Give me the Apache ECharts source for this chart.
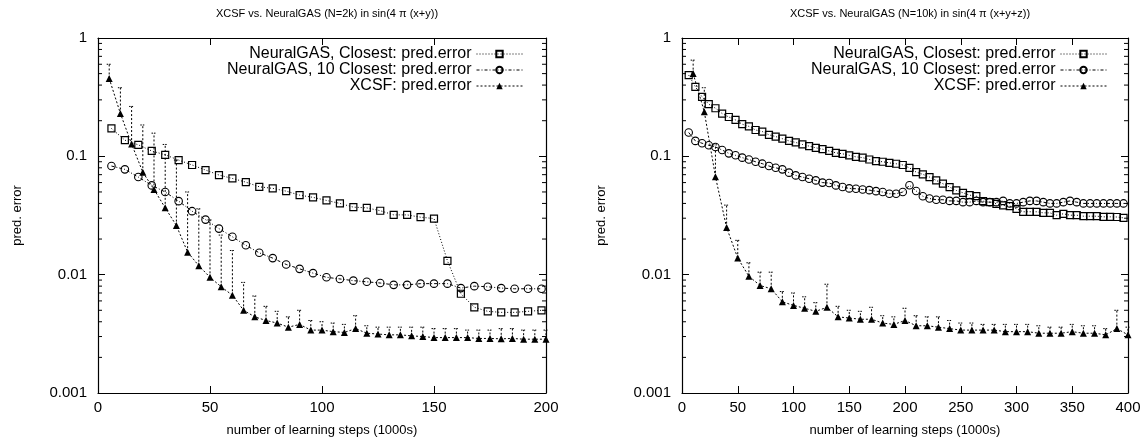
<!DOCTYPE html>
<html>
<head>
<meta charset="utf-8">
<script src="https://cdn.jsdelivr.net/npm/echarts@6/dist/echarts.min.js"></script>
<style>
  html, body { margin: 0; padding: 0; background: #fff; }
  #chart { width: 1148px; height: 448px; }
</style>
</head>
<body>
<div id="chart"></div>
<script>
// left panel: N=2k, sin(4 pi (x+y))
const stepsXcsfL = [5, 10, 15, 20, 25, 30, 35, 40, 45, 50, 55, 60, 65, 70, 75, 80, 85, 90, 95, 100,
  105, 110, 115, 120, 125, 130, 135, 140, 145, 150, 155, 160, 165, 170, 175, 180, 185, 190, 195, 200]
const xcsfL = [0.455, 0.23, 0.127, 0.0735, 0.0525, 0.0367, 0.026, 0.0155, 0.0119, 0.0095, 0.0079, 0.0067, 0.0050, 0.0044,
  0.0041, 0.0039, 0.0036, 0.0038, 0.0034, 0.0034, 0.0033, 0.00325, 0.0035, 0.0032, 0.00315, 0.0031, 0.0031, 0.00304,
  0.0030, 0.00294, 0.00294, 0.00294, 0.00294, 0.00289, 0.00289, 0.00287, 0.00289, 0.00285, 0.00285, 0.00285]
const xcsfTopL = [0.60, 0.38, 0.264, 0.184, 0.157, 0.126, 0.093, 0.050, 0.036, 0.029, 0.0216, 0.016, 0.0086, 0.0066,
  0.0054, 0.0049, 0.0044, 0.0050, 0.0041, 0.0040, 0.0039, 0.0038, 0.0045, 0.0037, 0.0036, 0.0036, 0.0036, 0.0036,
  0.0036, 0.0035, 0.0035, 0.0035, 0.0034, 0.0034, 0.0034, 0.0035, 0.0035, 0.0034, 0.0034, 0.0034]
const stepsNgL = [6, 12, 18, 24, 30, 36, 42, 48, 54, 60, 66, 72, 78, 84, 90, 96, 102, 108, 114, 120,
  126, 132, 138, 144, 150, 156, 162, 168, 174, 180, 186, 192, 198]
const ngClosestL = [0.172, 0.137, 0.125, 0.111, 0.103, 0.093, 0.0845, 0.0766, 0.0695, 0.065, 0.0605, 0.0553, 0.0536,
  0.0508, 0.047, 0.045, 0.0424, 0.040, 0.0372, 0.0367, 0.0347, 0.032, 0.032, 0.0306, 0.0298, 0.0131, 0.0069, 0.0053,
  0.0049, 0.0048, 0.0048, 0.0049, 0.0050]
const ng10L = [0.0828, 0.0776, 0.0668, 0.0568, 0.050, 0.0418, 0.0344, 0.0292, 0.0245, 0.0209, 0.0177, 0.0153, 0.0138,
  0.0122, 0.0112, 0.0103, 0.0095, 0.0092, 0.0089, 0.0087, 0.0085, 0.0082, 0.0082, 0.0084, 0.0084, 0.0084, 0.0077,
  0.0080, 0.0079, 0.0077, 0.0076, 0.0076, 0.0076]

// right panel: N=10k, sin(4 pi (x+y+z))
const stepsXcsfR = [10, 20, 30, 40, 50, 60, 70, 80, 90, 100, 110, 120, 130, 140, 150, 160, 170, 180, 190, 200,
  210, 220, 230, 240, 250, 260, 270, 280, 290, 300, 310, 320, 330, 340, 350, 360, 370, 380, 390, 400]
const xcsfR = [0.50, 0.238, 0.0673, 0.025, 0.0138, 0.0097, 0.0081, 0.0076, 0.0059, 0.0055, 0.0052, 0.0049, 0.0053,
  0.0044, 0.0043, 0.0042, 0.0042, 0.0039, 0.0038, 0.0041, 0.0037, 0.0037, 0.0036, 0.0035, 0.0034, 0.0034, 0.0034,
  0.0034, 0.0033, 0.0033, 0.0033, 0.0032, 0.0032, 0.0032, 0.0033, 0.0032, 0.0032, 0.0031, 0.0035, 0.0031]
const xcsfTopR = [0.65, 0.38, 0.125, 0.0387, 0.0195, 0.0126, 0.0105, 0.0105, 0.0072, 0.0070, 0.0065, 0.0058, 0.0083,
  0.0054, 0.0050, 0.0049, 0.0053, 0.0045, 0.0044, 0.0052, 0.0045, 0.0044, 0.0044, 0.0041, 0.0039, 0.0039, 0.0038,
  0.0038, 0.0038, 0.0038, 0.0038, 0.0037, 0.0036, 0.0036, 0.0038, 0.0037, 0.0037, 0.0035, 0.0050, 0.0036]
const stepsNgR = [6, 12, 18, 24, 30, 36, 42, 48, 54, 60, 66, 72, 78, 84, 90, 96, 102, 108, 114, 120,
  126, 132, 138, 144, 150, 156, 162, 168, 174, 180, 186, 192, 198, 204, 210, 216, 222, 228, 234, 240,
  246, 252, 258, 264, 270, 276, 282, 288, 294, 300, 306, 312, 318, 324, 330, 336, 342, 348, 354, 360,
  366, 372, 378, 384, 390, 396]
const ngClosestR = [0.486, 0.387, 0.318, 0.276, 0.255, 0.23, 0.215, 0.203, 0.187, 0.179, 0.167, 0.162, 0.152, 0.147,
  0.141, 0.135, 0.131, 0.126, 0.122, 0.118, 0.115, 0.111, 0.107, 0.105, 0.102, 0.099, 0.0975, 0.094, 0.091, 0.090,
  0.088, 0.0866, 0.0845, 0.080, 0.0736, 0.0704, 0.0668, 0.0626, 0.0587, 0.055, 0.0515, 0.0492, 0.047, 0.0461, 0.0418,
  0.041, 0.0397, 0.0385, 0.038, 0.036, 0.034, 0.034, 0.034, 0.0333, 0.0333, 0.0318, 0.0327, 0.0318, 0.0318, 0.0312,
  0.0312, 0.0312, 0.0308, 0.0308, 0.0307, 0.0302]
const ng10R = [0.159, 0.135, 0.129, 0.124, 0.12, 0.113, 0.106, 0.102, 0.0975, 0.094, 0.090, 0.0867, 0.0828, 0.080,
  0.0776, 0.0728, 0.069, 0.0668, 0.0647, 0.0626, 0.060, 0.0595, 0.0568, 0.055, 0.0536, 0.0532, 0.0525, 0.0518, 0.0508,
  0.0499, 0.0483, 0.0483, 0.0499, 0.057, 0.051, 0.046, 0.044, 0.043, 0.043, 0.042, 0.042, 0.041, 0.041, 0.042, 0.041,
  0.041, 0.041, 0.042, 0.040, 0.040, 0.041, 0.042, 0.042, 0.041, 0.040, 0.040, 0.041, 0.042, 0.041, 0.040, 0.040,
  0.040, 0.040, 0.040, 0.040, 0.040]

const seriesNames = ['NeuralGAS, Closest: pred.error', 'NeuralGAS, 10 Closest: pred.error', 'XCSF: pred.error']
const titles = ['XCSF vs. NeuralGAS (N=2k) in sin(4 π (x+y))', 'XCSF vs. NeuralGAS (N=10k) in sin(4 π (x+y+z))']
const xMaxes = [200, 400]
// minor ticks of the log axis: 2..9 within each decade
const decades = [0.001, 0.01, 0.1]
const minorSteps = [2, 3, 4, 5, 6, 7, 8, 9]

const FONT = '"Liberation Sans", Arial, Helvetica, sans-serif'
const chart = echarts.init(document.getElementById('chart'))

function pairs(xs, ys) {
  return xs.map((x, i) => [x, ys[i]])
}

function xAxesFor(gi, max) {
  const common = {
    type: 'value', gridIndex: gi, min: 0, max: max, interval: 50,
    axisLine: { show: true, onZero: false, lineStyle: { color: '#000', width: 1.2 } },
    axisTick: { inside: true, length: 7, lineStyle: { color: '#000', width: 1 } },
    splitLine: { show: false },
  }
  return [
    Object.assign({}, common, {
      position: 'bottom',
      name: 'number of learning steps (1000s)', nameLocation: 'middle', nameGap: 31,
      nameTextStyle: { fontSize: 13, fontFamily: FONT, color: '#000' },
      axisLabel: { fontSize: 15, fontFamily: FONT, color: '#000', margin: 7 },
    }),
    Object.assign({}, common, { position: 'top', axisLabel: { show: false } }),
  ]
}

function yAxesFor(gi) {
  const common = {
    type: 'log', logBase: 10, gridIndex: gi, min: 0.001, max: 1,
    axisLine: { show: true, onZero: false, lineStyle: { color: '#000', width: 1.2 } },
    axisTick: { inside: true, length: 7, lineStyle: { color: '#000', width: 1 } },
    splitLine: { show: false },
    minorTick: { show: false },
  }
  return [
    Object.assign({}, common, {
      position: 'left',
      name: 'pred. error', nameLocation: 'middle', nameGap: 74,
      nameTextStyle: { fontSize: 13, fontFamily: FONT, color: '#000' },
      axisLabel: {
        fontSize: 15, fontFamily: FONT, color: '#000', margin: 11,
        formatter: (v) => String(Number(v.toPrecision(1))),
      },
    }),
    Object.assign({}, common, { position: 'right', axisLabel: { show: false } }),
  ]
}

function minorTicks(axisBase, xMax) {
  const vals = []
  decades.forEach(d => minorSteps.forEach(s => vals.push([0, d * s])))
  return {
    type: 'custom', xAxisIndex: axisBase, yAxisIndex: axisBase, silent: true,
    data: vals, encode: { x: 0, y: 1 },
    renderItem(params, api) {
      const l = api.coord([0, api.value(1)])
      const r = api.coord([xMax, api.value(1)])
      const st = { stroke: '#000', lineWidth: 1 }
      return {
        type: 'group', children: [
          { type: 'line', shape: { x1: l[0], y1: l[1], x2: l[0] + 4, y2: l[1] }, style: st },
          { type: 'line', shape: { x1: r[0] - 4, y1: r[1], x2: r[0], y2: r[1] }, style: st },
        ],
      }
    },
  }
}

function errorBars(axisBase, xs, ys, tops) {
  return {
    type: 'custom', xAxisIndex: axisBase, yAxisIndex: axisBase, silent: true, z: 1,
    data: xs.map((x, i) => [x, ys[i], tops[i]]), encode: { x: 0, y: [1, 2] },
    renderItem(params, api) {
      const lo = api.coord([api.value(0), api.value(1)])
      const hi = api.coord([api.value(0), api.value(2)])
      const st = { stroke: '#000', lineWidth: 1, lineDash: [2, 2] }
      return {
        type: 'group', children: [
          { type: 'line', shape: { x1: lo[0], y1: lo[1], x2: hi[0], y2: hi[1] }, style: st },
          { type: 'line', shape: { x1: hi[0] - 2.5, y1: hi[1], x2: hi[0] + 2.5, y2: hi[1] },
            style: { stroke: '#000', lineWidth: 1, lineDash: [1.5, 1] } },
        ],
      }
    },
  }
}

function lineSeries(axisBase, which, data) {
  const base = {
    name: seriesNames[which], type: 'line', xAxisIndex: axisBase, yAxisIndex: axisBase,
    data: data, showSymbol: true, showAllSymbol: true, z: 3,
  }
  if (which === 0) {
    return Object.assign(base, {
      symbol: 'rect', symbolSize: 7,
      lineStyle: { color: '#000', width: 1, type: [1, 2] },
      itemStyle: { color: 'rgba(255,255,255,0)', borderColor: '#000', borderWidth: 1.2 },
    })
  }
  if (which === 1) {
    return Object.assign(base, {
      symbol: 'circle', symbolSize: 7.5,
      lineStyle: { color: '#000', width: 1, type: [3, 2, 1, 2] },
      itemStyle: { color: 'rgba(255,255,255,0)', borderColor: '#000', borderWidth: 1.1 },
    })
  }
  return Object.assign(base, {
    symbol: 'triangle', symbolSize: 7,
    lineStyle: { color: '#000', width: 1, type: [2, 2] },
    itemStyle: { color: '#000' },
  })
}

const legendRights = [625, 41]
const legendTops = [46, 62, 78]
const legends = []
legendRights.forEach(r => {
  seriesNames.forEach((n, i) => {
    legends.push({
      data: [n], right: r, top: legendTops[i], orient: 'horizontal', align: 'right',
      padding: 0, itemWidth: 46, itemHeight: 8, selectedMode: false,
      lineStyle: { width: 1 },
      textStyle: { fontSize: 16, fontFamily: FONT, color: '#000' },
    })
  })
})

const option = {
  backgroundColor: '#fff',
  animation: false,
  title: [
    { text: titles[0], left: 322, top: 3, textAlign: 'center',
      textStyle: { fontSize: 11, fontWeight: 'normal', fontFamily: FONT, color: '#000' } },
    { text: titles[1], left: 905, top: 3, textAlign: 'center',
      textStyle: { fontSize: 11, fontWeight: 'normal', fontFamily: FONT, color: '#000' } },
  ],
  legend: legends,
  grid: [
    { left: 98, top: 38, width: 448, height: 355 },
    { left: 682, top: 38, width: 446, height: 355 },
  ],
  xAxis: [...xAxesFor(0, xMaxes[0]), ...xAxesFor(1, xMaxes[1])],
  yAxis: [...yAxesFor(0), ...yAxesFor(1)],
  series: [
    minorTicks(0, xMaxes[0]),
    errorBars(0, stepsXcsfL, xcsfL, xcsfTopL),
    lineSeries(0, 0, pairs(stepsNgL, ngClosestL)),
    lineSeries(0, 1, pairs(stepsNgL, ng10L)),
    lineSeries(0, 2, pairs(stepsXcsfL, xcsfL)),
    minorTicks(2, xMaxes[1]),
    errorBars(2, stepsXcsfR, xcsfR, xcsfTopR),
    lineSeries(2, 0, pairs(stepsNgR, ngClosestR)),
    lineSeries(2, 1, pairs(stepsNgR, ng10R)),
    lineSeries(2, 2, pairs(stepsXcsfR, xcsfR)),
  ],
}

chart.setOption(option)
</script>
</body>
</html>
